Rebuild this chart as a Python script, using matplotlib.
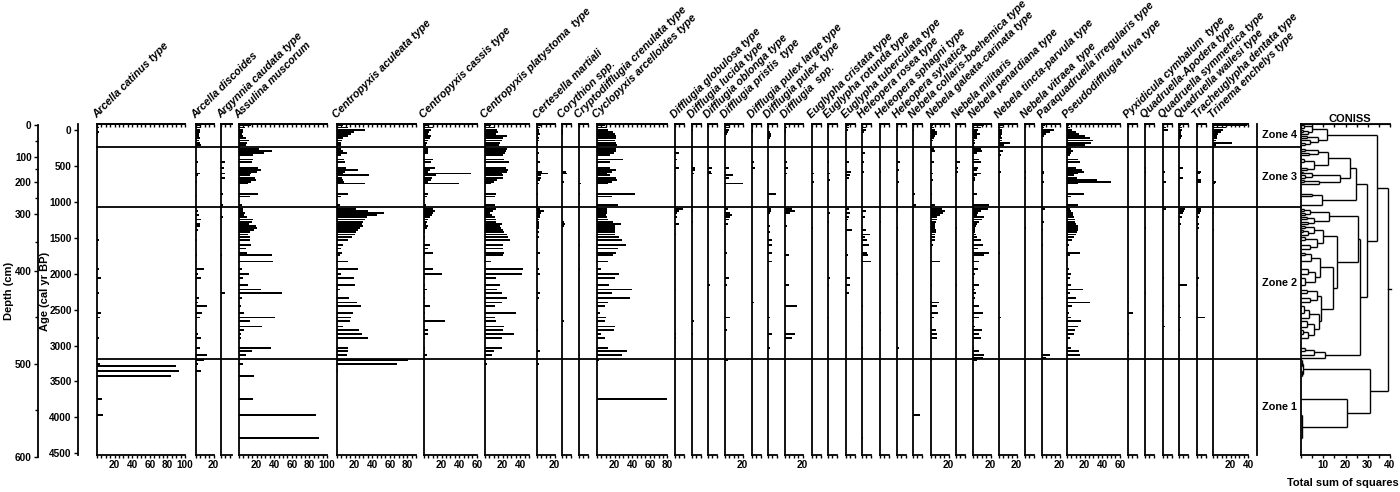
import numpy as np
import matplotlib
matplotlib.use("Agg")
import matplotlib.pyplot as plt
import matplotlib.transforms as mtransforms
from matplotlib.lines import Line2D

plt.rcParams['font.family'] = ['Liberation Sans', 'DejaVu Sans']

# ---- testate amoebae percentages, keyed by sample age (cal yr BP) ----
arcella_catinus = {-35: 2, 25: 2, 55: 1, 1530: 2, 1940: 2, 2060: 4, 2270: 2, 2550: 5, 2610: 3, 2890: 2,
                   3255: 3, 3285: 90, 3360: 93, 3430: 84, 3745: 6, 3965: 7}
arcella_discoides = {-65: 5, -35: 6, -5: 4, 25: 4, 55: 3, 85: 3, 115: 4, 145: 3, 175: 5, 205: 6,
                     440: 2, 605: 4, 625: 2, 720: 1, 925: 1, 1125: 2, 1185: 3, 1245: 6, 1305: 5, 1335: 4,
                     1395: 2, 1530: 1, 1740: 1, 1830: 1, 1940: 9, 2010: 2, 2060: 6, 2340: 3, 2400: 2,
                     2455: 13, 2550: 7, 2610: 4, 2840: 2, 2890: 6, 3035: 5, 3135: 13, 3205: 9, 3255: 2, 3360: 6}
argynnia_caudata = {440: 4, 530: 3, 605: 4, 670: 4, 890: 2, 1045: 2, 1215: 2, 1740: 1, 2270: 5}
assulina_muscorum = {-65: 14, -35: 7, -5: 4, 25: 5, 55: 3, 85: 5, 115: 8, 145: 11, 175: 9, 205: 8,
                     260: 23, 290: 37, 320: 28, 345: 16, 410: 16, 440: 15, 530: 22, 555: 25, 580: 21,
                     605: 14, 625: 12, 670: 18, 695: 19, 720: 14, 745: 10, 890: 22, 925: 13, 1045: 3,
                     1095: 4, 1125: 5, 1155: 7, 1185: 6, 1215: 9, 1245: 16, 1275: 15, 1305: 11, 1335: 19,
                     1365: 20, 1395: 17, 1425: 13, 1455: 10, 1490: 12, 1530: 12, 1600: 14, 1650: 8,
                     1710: 9, 1740: 37, 1830: 39, 1940: 3, 2010: 11, 2060: 5, 2160: 10, 2220: 25,
                     2270: 49, 2340: 3, 2455: 2, 2550: 6, 2610: 41, 2655: 13, 2735: 26, 2780: 6,
                     2840: 2, 2890: 2, 3035: 36, 3080: 15, 3135: 8,
                     3255: 4, 3430: 17, 3745: 16, 3965: 87, 4290: 91}
centropyxis_aculeata = {-65: 7, -35: 13, -5: 32, 25: 19, 55: 16, 85: 13, 115: 7, 145: 6, 175: 5, 205: 4,
                        260: 5, 290: 7, 320: 11, 345: 4, 410: 8, 440: 9, 530: 10, 555: 24, 580: 9,
                        605: 7, 625: 36, 670: 6, 695: 7, 720: 8, 745: 32, 890: 12, 925: 5, 1045: 3,
                        1095: 22, 1125: 35, 1155: 53, 1185: 45, 1215: 34, 1245: 32, 1275: 30, 1305: 28,
                        1335: 29, 1365: 26, 1395: 24, 1425: 22, 1455: 20, 1490: 17, 1530: 12, 1600: 7,
                        1650: 5, 1710: 6, 1740: 3, 1830: 12, 1940: 24, 2010: 4, 2060: 19, 2160: 20,
                        2220: 3, 2340: 14, 2400: 23, 2455: 27, 2550: 18, 2610: 16, 2655: 15, 2735: 7,
                        2780: 25, 2840: 28, 2890: 35, 3035: 12, 3080: 12, 3135: 11,
                        3205: 81, 3255: 68, 3360: 1}
centropyxis_cassis = {-65: 4, -35: 10, -5: 8, 25: 6, 55: 5, 85: 8, 115: 7, 145: 4, 175: 3, 205: 2,
                      260: 4, 290: 5, 320: 4, 410: 10, 440: 8, 530: 12, 555: 7, 580: 4, 605: 53, 625: 14,
                      670: 9, 695: 8, 720: 5, 745: 40, 890: 5, 925: 3, 1045: 2,
                      1095: 10, 1125: 12, 1155: 10, 1185: 9, 1215: 7, 1245: 5, 1275: 3, 1305: 2, 1335: 5,
                      1365: 3, 1395: 1, 1425: 1, 1490: 1, 1600: 7, 1650: 5, 1710: 10, 1740: 1, 1830: 1,
                      1940: 10, 2010: 21, 2060: 1, 2160: 1, 2220: 3, 2270: 1, 2340: 1, 2400: 1, 2455: 7,
                      2550: 1, 2610: 1, 2655: 24, 2735: 1, 2780: 5, 2840: 5, 2890: 1, 3035: 1, 3080: 1,
                      3135: 3}
centropyxis_platystoma = {-65: 7, -35: 11, -5: 14, 25: 15, 55: 13, 85: 25, 115: 20, 145: 19, 175: 17,
                          205: 16, 260: 25, 290: 24, 320: 23, 345: 20, 410: 22, 440: 27, 530: 24,
                          555: 26, 580: 25, 605: 19, 625: 20, 670: 20, 695: 14, 720: 10, 745: 7,
                          890: 13, 925: 11, 1045: 11,
                          1095: 13, 1125: 9, 1155: 6, 1185: 8, 1215: 11, 1245: 13, 1275: 13, 1305: 19,
                          1335: 17, 1365: 18, 1395: 21, 1425: 22, 1455: 25, 1490: 26, 1530: 28,
                          1600: 21, 1650: 21, 1710: 22, 1740: 21, 1830: 7, 1940: 43, 2010: 42,
                          2060: 13, 2160: 17, 2220: 14, 2270: 19, 2340: 25, 2400: 19, 2455: 11,
                          2550: 35, 2610: 11, 2655: 12, 2735: 22, 2780: 21, 2840: 33, 2890: 19,
                          3035: 19, 3080: 10, 3135: 8, 3255: 2}
certesella_martiali = {-65: 4, -35: 3, -5: 2, 25: 2, 55: 3, 85: 1, 115: 2, 145: 2, 175: 1, 320: 2,
                       440: 3, 580: 6, 605: 12, 625: 5, 670: 4, 695: 3, 745: 2, 890: 1, 1045: 1,
                       1095: 3, 1125: 8, 1155: 4, 1185: 3, 1215: 3, 1245: 2, 1275: 2, 1305: 2,
                       1335: 2, 1365: 2, 1425: 2, 1490: 2, 1710: 3, 1940: 2, 2010: 3, 2270: 3,
                       2340: 2, 2780: 1, 3080: 3, 3255: 2}
corythion = {-5: 1, 25: 1, 55: 1, 580: 4, 605: 6, 720: 2, 1275: 2, 1305: 3, 1335: 2, 2655: 2, 2735: 1}
cryptodifflugia = {-35: 1, 745: 2, 890: 1, 1600: 1, 1940: 1, 3135: 1}
cyclopyxis = {-65: 9, -35: 11, -5: 13, 25: 18, 55: 21, 85: 22, 115: 22, 145: 21, 175: 22, 205: 23,
              260: 22, 290: 22, 320: 19, 345: 15, 410: 29, 440: 15, 530: 15, 555: 22, 580: 17,
              605: 11, 625: 15, 670: 22, 695: 23, 720: 17, 745: 13, 890: 43, 925: 17, 1045: 24,
              1095: 11, 1125: 11, 1155: 11, 1185: 10, 1215: 11, 1245: 12, 1275: 18, 1305: 27,
              1335: 20, 1365: 20, 1395: 21, 1425: 20, 1455: 20, 1490: 25, 1530: 28, 1600: 33,
              1650: 24, 1710: 22, 1740: 18, 1830: 12, 1940: 4, 2010: 25, 2060: 20, 2160: 14,
              2220: 40, 2270: 17, 2340: 38, 2400: 12, 2455: 9, 2550: 3, 2610: 10, 2655: 9,
              2735: 20, 2780: 19, 2840: 5, 2890: 9, 3035: 13, 3080: 34, 3135: 28,
              3205: 2, 3745: 79}
difflugia_globulosa = {320: 4, 410: 2, 530: 4, 1095: 9, 1125: 4, 1155: 2, 1215: 2, 1305: 5, 1455: 1,
                       2220: 1, 2840: 1, 2890: 1}
difflugia_lucida = {-5: 1, 530: 3, 555: 3, 605: 2, 1125: 1, 1275: 1, 2655: 2, 2840: 1}
difflugia_oblonga = {530: 5, 580: 3, 605: 5, 2160: 2}
difflugia_pristis = {-65: 4, -35: 6, -5: 4, 25: 3, 55: 2, 530: 4, 625: 9, 670: 4, 745: 20, 1095: 3,
                     1155: 6, 1185: 8, 1215: 6, 1245: 5, 1305: 3, 1710: 2, 2060: 4, 2160: 2, 2610: 6,
                     2780: 2, 3205: 3}
difflugia_pulex_large = {-5: 1, 25: 1, 440: 2, 530: 3, 2400: 2}
difflugia_pulex = {25: 2, 55: 3, 85: 3, 115: 2, 890: 9, 1095: 3, 1125: 3, 1155: 2, 1335: 2, 1425: 2,
                   1530: 5, 1600: 4, 1710: 5, 1830: 4, 2610: 2, 2840: 4, 3035: 2}
difflugia_spp = {-65: 1, -35: 2, -5: 1, 25: 1, 440: 2, 530: 3, 605: 2, 1095: 8, 1125: 11, 1155: 6,
                 1335: 2, 1740: 4, 2160: 4, 2455: 14, 2840: 11, 2890: 8}
euglypha_cristata = {605: 2, 720: 2, 1365: 1}
euglypha_rotunda = {-35: 1, 440: 1, 605: 2, 695: 2, 1155: 2, 1275: 1, 2060: 2, 2160: 1, 2610: 1}
euglypha_tuberculata = {-65: 3, -35: 3, -5: 2, 440: 3, 580: 6, 625: 4, 670: 3, 1095: 3, 1155: 5,
                        1215: 3, 1245: 2, 1395: 7, 1740: 2, 2060: 5, 2160: 4, 2270: 3}
heleopera_rosea = {-35: 5, -5: 4, 25: 2, 320: 3, 440: 2, 580: 2, 1125: 5, 1215: 3, 1395: 5, 1455: 9,
                   1490: 3, 1530: 6, 1600: 8, 1710: 6, 1740: 7, 1830: 10, 2455: 1, 2735: 1, 3035: 1,
                   4290: 1}
heleopera_sphagni = {-35: 1, 580: 1, 1275: 1, 2550: 1, 2780: 1}
heleopera_sylvatica = {-5: 1, 440: 3, 555: 2, 720: 2, 1125: 1, 1365: 1, 2010: 1, 2400: 1, 3035: 2}
nebela_collaris = {-5: 1, 890: 2, 1045: 3, 3965: 8}
nebela_galeata = {-65: 2, -35: 3, -5: 5, 25: 7, 55: 7, 85: 5, 115: 3, 145: 2, 260: 3, 290: 4, 440: 3,
                  605: 2, 695: 2, 890: 1, 1045: 4, 1095: 13, 1125: 16, 1155: 14, 1185: 10, 1215: 7,
                  1245: 7, 1275: 6, 1305: 5, 1335: 5, 1365: 5, 1395: 6, 1425: 6, 1455: 5, 1490: 4,
                  1530: 4, 1600: 2, 1830: 10, 2160: 1, 2400: 9, 2455: 7, 2550: 8, 2610: 3, 2780: 6,
                  2840: 7, 2890: 7, 3205: 1}
nebela_militaris = {440: 4, 530: 2, 580: 2, 1365: 1, 2160: 1}
nebela_penardiana = {-65: 12, -35: 9, -5: 6, 25: 4, 55: 8, 85: 5, 115: 4, 145: 2, 175: 2, 205: 1,
                     260: 9, 290: 10, 320: 5, 410: 7, 440: 9, 530: 6, 555: 5, 605: 9, 625: 4, 670: 2,
                     695: 2, 890: 5, 1045: 18, 1095: 17, 1125: 9, 1155: 6, 1185: 5, 1215: 12, 1245: 10,
                     1275: 7, 1305: 4, 1335: 3, 1365: 2, 1395: 2, 1425: 2, 1455: 3, 1490: 5, 1530: 9,
                     1600: 11, 1650: 6, 1710: 18, 1740: 13, 1830: 7, 1940: 6, 2010: 2, 2060: 1,
                     2160: 7, 2220: 2, 2270: 3, 2340: 2, 2400: 1, 2455: 7, 2550: 11, 2610: 7, 2655: 1,
                     2735: 2, 2780: 10, 2840: 7, 2890: 9, 3035: 1, 3080: 7, 3135: 12, 3170: 11, 3205: 4}
nebela_tincta = {-65: 5, -35: 4, -5: 3, 25: 3, 55: 3, 85: 2, 115: 3, 145: 3, 175: 12, 205: 6, 290: 4,
                 345: 2, 580: 2, 1710: 1, 2610: 2}
nebela_vitraea = {-35: 1, 580: 1, 670: 1, 1365: 1}
paraquadruella = {-65: 3, -35: 2, -5: 14, 25: 9, 55: 5, 85: 2, 580: 2, 605: 2, 720: 2, 1095: 3,
                  1275: 2, 1395: 1, 1600: 1, 2340: 1, 3135: 9, 3170: 5}
pseudodifflugia = {-65: 2, -35: 3, -5: 6, 25: 10, 55: 14, 85: 20, 115: 26, 145: 30, 175: 27, 205: 20,
                   260: 5, 290: 7, 320: 5, 345: 3, 410: 12, 440: 15, 530: 10, 555: 17, 580: 19,
                   605: 12, 625: 8, 670: 11, 695: 34, 720: 50, 745: 12, 890: 19, 925: 5, 1045: 12,
                   1095: 3, 1125: 5, 1155: 7, 1185: 7, 1215: 8, 1245: 9, 1275: 9, 1305: 10, 1335: 12,
                   1365: 13, 1395: 12, 1425: 11, 1455: 10, 1490: 8, 1530: 6, 1600: 2, 1650: 1,
                   1710: 15, 1740: 3, 1830: 1, 1940: 2, 2010: 5, 2060: 3, 2160: 5, 2220: 18,
                   2270: 3, 2340: 10, 2400: 26, 2455: 6, 2550: 2, 2610: 5, 2655: 16, 2735: 12,
                   2780: 9, 2840: 8, 2890: 3, 3035: 5, 3080: 14, 3135: 15}
pyxidicula = {2400: 1, 2550: 6, 2840: 1, 3080: 1, 3135: 1, 3205: 1}
quadruella_apodera = {530: 1, 580: 1, 1365: 1, 2270: 1}
quadruella_symmetrica = {-35: 3, -5: 6, 580: 2, 720: 3, 1095: 3, 2060: 1, 2455: 1, 2735: 2}
quadruella_wailesi = {-65: 2, -35: 3, -5: 3, 25: 2, 55: 2, 85: 3, 115: 2, 530: 5, 670: 4, 1095: 7,
                      1125: 6, 1155: 5, 1215: 3, 1305: 2, 2160: 9, 2455: 1, 2610: 2, 2780: 1}
tracheuglypha = {580: 4, 605: 3, 695: 5, 720: 4, 1095: 4, 1125: 4, 1155: 3, 1215: 2, 1305: 2, 1365: 2,
                 2060: 2, 2160: 1, 2610: 9}
trinema = {-65: 39, -35: 15, -5: 11, 25: 9, 55: 6, 85: 5, 115: 4, 145: 3, 175: 22, 205: 3, 720: 3,
           745: 2, 1095: 1, 1155: 1, 1395: 1}

taxa = ["Arcella catinus type", "Arcella discoides", "Argynnia caudata type", "Assulina muscorum",
        "Centropyxis aculeata type", "Centropyxis cassis type", "Centropyxis platystoma  type",
        "Certesella martiali", "Corythion spp.", "Cryptodifflugia crenulata type",
        "Cyclopyxis arcelloides type", "Difflugia globulosa type", "Difflugia lucida type",
        "Difflugia oblonga type", "Difflugia pristis  type", "Difflugia pulex large type",
        "Difflugia pulex  type", "Difflugia  spp.", "Euglypha cristata type", "Euglypha rotunda type",
        "Euglypha tuberculata type", "Heleopera rosea type", "Heleopera sphagni type",
        "Heleopera sylvatica", "Nebela collaris-boehemica type", "Nebela galeata-carinata type",
        "Nebela militaris", "Nebela penardiana type", "Nebela tincta-parvula type",
        "Nebela vitraea  type", "Paraquadruella irregularis type", "Pseudodifflugia fulva type",
        "Pyxidicula cymbalum  type", "Quadruella-Apodera type", "Quadruella symmetrica type",
        "Quadruella wailesi type", "Tracheuglypha dentata type", "Trinema enchelys type"]
taxa_values = [arcella_catinus, arcella_discoides, argynnia_caudata, assulina_muscorum,
               centropyxis_aculeata, centropyxis_cassis, centropyxis_platystoma, certesella_martiali,
               corythion, cryptodifflugia, cyclopyxis, difflugia_globulosa, difflugia_lucida,
               difflugia_oblonga, difflugia_pristis, difflugia_pulex_large, difflugia_pulex,
               difflugia_spp, euglypha_cristata, euglypha_rotunda, euglypha_tuberculata,
               heleopera_rosea, heleopera_sphagni, heleopera_sylvatica, nebela_collaris,
               nebela_galeata, nebela_militaris, nebela_penardiana, nebela_tincta, nebela_vitraea,
               paraquadruella, pseudodifflugia, pyxidicula, quadruella_apodera,
               quadruella_symmetrica, quadruella_wailesi, tracheuglypha, trinema]
# x-axis maximum (%) of each panel
taxa_xmax = [100, 20, 12, 100, 90, 60, 50, 20, 10, 10, 80, 10, 10, 10, 20, 10, 10, 20, 10, 10, 10,
             10, 10, 10, 10, 20, 10, 20, 20, 10, 20, 60, 10, 10, 10, 10, 10, 40]

# age-depth model and zones
depth_cm = [0, 100, 200, 300, 400, 500, 600]
age_at_depth = [-70, 372, 720, 1169, 1958, 3257, 4548]
zone_bounds = [232, 1076, 3188]
zone_names = ["Zone 4", "Zone 3", "Zone 2", "Zone 1"]

# CONISS tree: (total sum of squares, left, right); leaves are sample ages
z4_tree = (11.8, (5.0, (1.5, -65, -35), (3.0, (1.0, -5, 25), 55)),
           (7.5, (2.5, 85, 115), (4.0, 145, (2.0, 175, 205))))
z3_tree = (24.7, (22.0, (12.0, (7.6, (2.0, 260, 290), (3.5, 320, 345)),
                         (6.0, (1.5, 410, 440), (2.5, 530, 555))),
                  (17.5, (5.0, (1.0, 580, 605), (2.0, 625, 670)), (8.0, (1.5, 695, 720), 745))),
           (9.5, (5.0, 890, 925), 1045))
z2_tree = (26.7, (25.5, (12.6, (4.0, (1.5, 1095, 1125), (2.0, 1155, 1185)),
                         (6.0, (2.5, 1215, 1245), (3.0, 1275, 1305))),
                  (16.4, (10.0, (5.7, (2.0, 1335, 1365), (3.0, (1.0, 1395, 1425), 1455)),
                          (7.0, (2.0, 1490, 1530), (4.0, 1600, 1650))),
                   (14.5, (8.5, (4.5, (2.0, 1710, 1740), 1830),
                           (6.5, (3.0, 1940, 2010), (2.0, 2060, 2160))),
                    (9.0, (7.0, (2.5, 2220, 2270), (4.0, 2340, 2400)),
                     (8.0, (3.5, (1.5, 2455, 2550), 2610),
                      (6.0, (2.5, 2655, 2735), (3.0, (1.0, 2780, 2840), 2890))))))),
           (11.0, (6.0, (2.0, 3035, 3080), 3135), 3170))
z1_tree = (31.0, (1.0, (0.6, (0.4, 3205, 3255), 3285), (0.5, 3360, 3430)),
           (20.5, 3745, (0.5, 3965, 4290)))
coniss_tree = (39.0, (34.0, z4_tree, (29.7, z3_tree, z2_tree)), z1_tree)

# ---- layout (pixels) ----
W, H = 1400, 492
TOP_PX, BOT_PX = 124.0, 455.3
AGE_TOP, AGE_BOT = -84, 4528
PX_PER_PCT = 0.88
BAR_H = 26
NUM_SIZE = 7.2
panel_left = [97, 196, 221, 239, 337, 424, 485, 537, 562, 579, 597, 675, 692, 708, 725, 752, 768,
              785, 812, 828, 846, 862, 880, 897, 913, 931, 956, 973, 999, 1025, 1042, 1067, 1128,
              1145, 1163, 1179, 1197, 1213]


def fx(px):
    return px / W


def fy(py):
    return 1 - py / H


fig = plt.figure(figsize=(W / 100, H / 100), dpi=100)
ax_b = fy(BOT_PX)
ax_h = (BOT_PX - TOP_PX) / H
LW = 1.3


def style_numbers(labels):
    for t in labels:
        t.set_fontweight('bold')
        t.set_fontsize(NUM_SIZE)


def x_ticks(ax, xmax):
    major = np.arange(20, xmax + 1, 20) if xmax >= 20 else []
    minor = np.arange(0, xmax + 1, 5)
    ax.set_xticks(major)
    ax.set_xticks(minor, minor=True)
    ax.set_xticklabels([str(v) for v in major])
    style_numbers(ax.get_xticklabels())
    ax.tick_params(axis='x', which='both', direction='out', length=2, width=1, pad=1.5)
    top = ax.secondary_xaxis('top')
    top.set_xticks(major)
    top.set_xticks(minor, minor=True)
    top.set_xticklabels([])
    top.tick_params(which='both', direction='in', length=2, width=1)
    top.spines['top'].set_linewidth(LW)


axes = []
for name, vals, xmax, left in zip(taxa, taxa_values, taxa_xmax, panel_left):
    ax = fig.add_axes([fx(left), ax_b, xmax * PX_PER_PCT / W, ax_h])
    ax.barh(list(vals.keys()), list(vals.values()), height=BAR_H, color='black', linewidth=0)
    ax.set_xlim(0, xmax)
    ax.set_ylim(AGE_BOT, AGE_TOP)
    ax.spines['right'].set_visible(False)
    for s in ('left', 'bottom', 'top'):
        ax.spines[s].set_linewidth(LW)
    ax.set_yticks([])
    x_ticks(ax, xmax)
    fig.text(fx(left + 1), fy(120), name, rotation=45, rotation_mode='anchor', ha='left',
             va='bottom', fontsize=7.8, style='italic', fontweight='bold')
    axes.append(ax)

ax0 = axes[0]

# age axis
ax_age = fig.add_axes([fx(78), ax_b, 1 / W, ax_h])
ax_age.set_ylim(AGE_BOT, AGE_TOP)
ax_age.set_xticks([])
for s in ('right', 'top', 'bottom'):
    ax_age.spines[s].set_visible(False)
ax_age.spines['left'].set_linewidth(LW)
ax_age.set_yticks(np.arange(0, 4501, 500))
ax_age.set_yticklabels([str(v) for v in range(0, 4501, 500)])
style_numbers(ax_age.get_yticklabels())
ax_age.tick_params(axis='y', direction='out', length=3, width=1, pad=1.5)

# depth axis
dep_top, dep_bot = -84, 4560
dep_h_px = (dep_bot - dep_top) * (BOT_PX - TOP_PX) / (AGE_BOT - AGE_TOP)
ax_dep = fig.add_axes([fx(38), fy(TOP_PX + dep_h_px), 1 / W, dep_h_px / H])
ax_dep.set_ylim(dep_bot, dep_top)
ax_dep.set_xticks([])
for s in ('right', 'top', 'bottom'):
    ax_dep.spines[s].set_visible(False)
ax_dep.spines['left'].set_linewidth(LW)
ax_dep.spines['left'].set_bounds(age_at_depth[0], age_at_depth[-1])
ax_dep.set_yticks(np.interp(depth_cm, depth_cm, age_at_depth))
ax_dep.set_yticklabels([str(d) for d in depth_cm])
style_numbers(ax_dep.get_yticklabels())
ax_dep.set_yticks(np.interp(np.arange(50, 600, 100), depth_cm, age_at_depth), minor=True)
ax_dep.tick_params(axis='y', which='major', direction='out', length=3, width=1, pad=1.5)
ax_dep.tick_params(axis='y', which='minor', direction='out', length=2, width=1)

fig.text(fx(9), fy(291), "Depth (cm)", rotation=90, ha='center', va='center', fontsize=8,
         fontweight='bold')
fig.text(fx(45), fy(291), "Age (cal yr BP)", rotation=90, ha='center', va='center', fontsize=8,
         fontweight='bold')

# zone boundaries across all panels
trans = mtransforms.blended_transform_factory(fig.transFigure, ax0.transData)
for b in zone_bounds:
    fig.add_artist(Line2D([fx(97), fx(1301)], [b, b], transform=trans, color='black', lw=LW))
fig.add_artist(Line2D([fx(1257), fx(1257)], [fy(TOP_PX), fy(BOT_PX)], transform=fig.transFigure,
                      color='black', lw=LW))
edges = [AGE_TOP] + zone_bounds + [AGE_BOT]
for name, a, b in zip(zone_names, edges[:-1], edges[1:]):
    fig.text(fx(1262), (a + b) / 2, name, transform=trans, ha='left', va='center', fontsize=7.8,
             fontweight='bold')

# CONISS dendrogram
ax_c = fig.add_axes([fx(1301), ax_b, 89 / W, ax_h])
ax_c.set_xlim(0, 40)
ax_c.set_ylim(AGE_BOT, AGE_TOP)
ax_c.spines['right'].set_visible(False)
for s in ('left', 'bottom', 'top'):
    ax_c.spines[s].set_linewidth(LW)
ax_c.set_yticks([])
ax_c.set_xticks([10, 20, 30, 40])
ax_c.set_xticks(np.arange(0, 41, 5), minor=True)
ax_c.set_xticklabels(['10', '20', '30', '40'])
style_numbers(ax_c.get_xticklabels())
ax_c.tick_params(axis='x', which='both', direction='out', length=2, width=1, pad=1.5)
top = ax_c.secondary_xaxis('top')
top.set_xticks([10, 20, 30, 40])
top.set_xticks(np.arange(0, 41, 5), minor=True)
top.set_xticklabels([])
top.tick_params(which='both', direction='in', length=2, width=1)


def draw_node(ax, node):
    if not isinstance(node, tuple):
        return node, 0.0
    h, a, b = node
    ya, ha = draw_node(ax, a)
    yb, hb = draw_node(ax, b)
    kw = dict(color='black', lw=1.0, solid_capstyle='butt')
    ax.plot([ha, h], [ya, ya], **kw)
    ax.plot([hb, h], [yb, yb], **kw)
    ax.plot([h, h], [ya, yb], **kw)
    return (ya + yb) / 2, h


y_root, h_root = draw_node(ax_c, coniss_tree)
ax_c.plot([h_root, h_root + 1.5], [y_root, y_root], color='black', lw=1.0, clip_on=False)

fig.text(fx(1350), fy(118.5), "CONISS", ha='center', va='center', fontsize=8, fontweight='bold')
fig.text(fx(1343), fy(483.5), "Total sum of squares", ha='center', va='center', fontsize=8,
         fontweight='bold')

fig.savefig("out.png", dpi=100)
